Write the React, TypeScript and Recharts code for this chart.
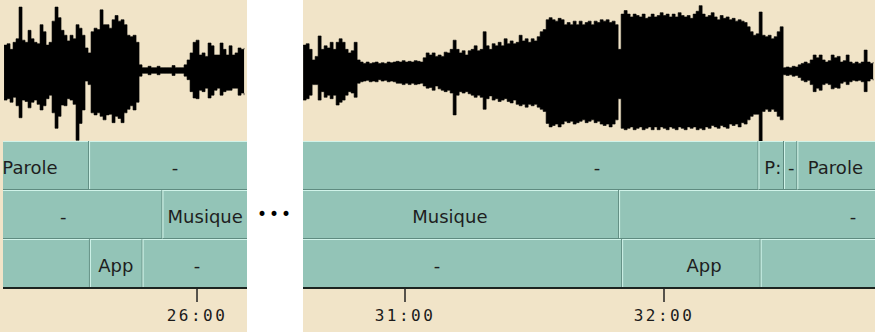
import { ComposedChart, Area, XAxis, YAxis, ReferenceArea, ReferenceDot } from 'recharts';

// time windows of the two views (seconds)
const leftDomain = [1515.06, 1571.58];
const rightDomain = [1836.37, 1968.88];
const leftTicks = [1560];
const rightTicks = [1860, 1920];

// waveform envelope, percent of full scale, one sample every WAVE_STEP seconds
const WAVE_STEP = 0.695;
const LEFT_WAVE_START = 1515.3;
const RIGHT_WAVE_START = 1836.4;

const leftUpper = [
  36, 38, 30, 40, 45, 90, 43, 40, 57, 45, 40, 38, 65, 55, 36, 40, 70, 90, 75, 57,
  50, 42, 50, 45, 65, 60, 50, 32, 25, 55, 60, 58, 86, 65, 65, 60, 72, 78, 70, 72,
  65, 50, 48, 50, 40, 8, 4, 4, 6, 4, 4, 6, 4, 4, 4, 4, 7, 4, 4, 4,
  8, 15, 25, 40, 43, 22, 25, 20, 39, 35, 22, 22, 39, 30, 22, 35, 22, 25, 32, 30, 32,
];
const leftLower = [
  42, 40, 45, 38, 50, 67, 42, 44, 53, 45, 42, 48, 56, 50, 40, 35, 60, 82, 65, 49,
  50, 40, 42, 48, 99, 75, 56, 15, 20, 60, 63, 60, 65, 70, 63, 62, 74, 65, 68, 74,
  60, 55, 50, 56, 45, 8, 4, 4, 6, 4, 4, 6, 4, 4, 4, 4, 7, 4, 4, 4,
  8, 13, 30, 39, 40, 28, 30, 25, 39, 35, 28, 25, 35, 30, 28, 28, 25, 25, 35, 32, 35,
];

const rightUpper = [
  36, 38, 30, 15, 20, 49, 30, 35, 32, 40, 30, 40, 45, 40, 30, 25, 28, 40, 15, 12,
  10, 12, 10, 11, 12, 10, 11, 10, 12, 11, 12, 13, 12, 14, 12, 13, 12, 14, 13, 12,
  18, 25, 22, 25, 20, 22, 20, 26, 25, 30, 43, 30, 25, 28, 22, 28, 30, 35, 28, 30,
  55, 35, 30, 38, 35, 40, 35, 45, 38, 42, 38, 40, 50, 42, 45, 40, 45, 42, 48, 55,
  58, 72, 75, 72, 70, 74, 72, 65, 68, 65, 70, 65, 70, 65, 68, 70, 65, 70, 68, 72,
  70, 72, 68, 70, 65, 30, 80, 85, 80, 76, 80, 78, 76, 80, 74, 76, 80, 76, 78, 82,
  78, 80, 76, 80, 76, 82, 78, 76, 78, 74, 80, 84, 92, 80, 76, 78, 82, 76, 72, 78,
  74, 76, 72, 74, 70, 72, 70, 68, 62, 55, 50, 52, 83, 50, 48, 50, 45, 48, 55, 62,
  4, 5, 4, 6, 5, 8, 10, 12, 10, 15, 22, 18, 22, 15, 12, 14, 22, 18, 20, 12,
  14, 22, 12, 10, 12, 10, 12, 29, 12, 10, 12,
];
const rightLower = [
  42, 40, 35, 20, 20, 42, 30, 38, 35, 40, 35, 49, 45, 42, 35, 30, 32, 38, 18, 16,
  15, 14, 16, 15, 16, 13, 15, 14, 16, 15, 16, 18, 18, 20, 18, 20, 18, 20, 19, 18,
  22, 25, 24, 28, 22, 26, 28, 30, 28, 32, 63, 35, 30, 32, 30, 33, 35, 38, 35, 38,
  55, 40, 36, 42, 40, 44, 42, 40, 44, 46, 42, 48, 50, 48, 52, 48, 50, 48, 52, 55,
  58, 75, 80, 78, 76, 80, 76, 72, 74, 72, 76, 74, 72, 70, 74, 72, 70, 74, 72, 76,
  78, 76, 80, 76, 70, 40, 82, 84, 82, 80, 84, 82, 80, 84, 82, 80, 84, 80, 84, 80,
  82, 84, 80, 82, 84, 80, 82, 84, 80, 82, 80, 84, 82, 84, 80, 82, 78, 80, 82, 78,
  80, 82, 76, 78, 76, 80, 74, 76, 70, 65, 62, 62, 100, 58, 55, 58, 55, 58, 65, 70,
  6, 7, 6, 8, 7, 10, 14, 16, 14, 20, 30, 25, 28, 20, 18, 20, 26, 24, 25, 18,
  16, 20, 16, 14, 15, 14, 16, 30, 15, 12, 14,
];

// annotation tracks: row 0 = speech, 1 = music, 2 = applause
const leftSegments = [
  { row: 0, start: 1500, end: 1535.0, label: 'Parole', at: 1521.3 },
  { row: 0, start: 1535.0, end: 1590, label: '-', at: 1554.9 },
  { row: 1, start: 1500, end: 1552.0, label: '-', at: 1529.0 },
  { row: 1, start: 1552.0, end: 1590, label: 'Musique', at: 1561.9 },
  { row: 2, start: 1500, end: 1535.2, label: '', at: 1520 },
  { row: 2, start: 1535.2, end: 1547.4, label: 'App', at: 1541.2 },
  { row: 2, start: 1547.4, end: 1590, label: '-', at: 1560.0 },
];
const rightSegments = [
  { row: 0, start: 1820, end: 1941.9, label: '-', at: 1904.5 },
  { row: 0, start: 1941.9, end: 1947.8, label: 'P:', at: 1945.2 },
  { row: 0, start: 1947.8, end: 1950.9, label: '-', at: 1949.5 },
  { row: 0, start: 1950.9, end: 1990, label: 'Parole', at: 1959.7 },
  { row: 1, start: 1820, end: 1909.6, label: 'Musique', at: 1870.4 },
  { row: 1, start: 1909.6, end: 1990, label: '-', at: 1963.8 },
  { row: 2, start: 1820, end: 1910.3, label: '-', at: 1867.4 },
  { row: 2, start: 1910.3, end: 1942.4, label: 'App', at: 1929.3 },
  { row: 2, start: 1942.4, end: 1990, label: '', at: 1960 },
];

const BEIGE = '#f1e4c8';
const TEAL = '#93c4b7';
const LIGHT = '#d0f3e9';
const SHADE = '#5f8b80';

const toWave = (start, upper, lower) =>
  upper.map((u, i) => ({ t: start + i * WAVE_STEP, range: [-lower[i] / 100, u / 100] }));

const fmt = (t) => {
  const m = Math.floor(t / 60);
  const s = Math.round(t % 60);
  return `${m}:${String(s).padStart(2, '0')}`;
};

const SegmentShape = (p) => {
  const { x, y, width, height } = p;
  return (
    <g>
      <rect x={x} y={y} width={width} height={height} fill={TEAL} />
      <line x1={x} y1={y + 0.5} x2={x + width} y2={y + 0.5} stroke={LIGHT} />
      <line x1={x + 0.5} y1={y} x2={x + 0.5} y2={y + height} stroke={LIGHT} />
      <line x1={x + width - 0.5} y1={y} x2={x + width - 0.5} y2={y + height} stroke={SHADE} />
      <line x1={x} y1={y + height - 0.5} x2={x + width} y2={y + height - 0.5} stroke={SHADE} />
    </g>
  );
};

const Panel = ({ left, width, domain, wave, segments, ticks }) => (
  <div style={{ position: 'absolute', left, top: 0, width, height: 332 }}>
    <div style={{ position: 'absolute', left: 0, top: 0 }}>
      <ComposedChart width={width} height={141} data={wave} margin={{ top: 0, right: 0, bottom: 0, left: 0 }}>
        <XAxis type="number" dataKey="t" domain={domain} allowDataOverflow hide />
        <YAxis type="number" domain={[-1, 1]} allowDataOverflow hide />
        <Area
          type="stepAfter"
          dataKey="range"
          fill="#000"
          fillOpacity={1}
          stroke="#000"
          strokeWidth={0.6}
          isAnimationActive={false}
        />
      </ComposedChart>
    </div>
    <div style={{ position: 'absolute', left: 0, top: 141 }}>
      <ComposedChart width={width} height={191} margin={{ top: 0, right: 0, bottom: 0, left: 0 }}>
        <XAxis
          type="number"
          dataKey="t"
          domain={domain}
          allowDataOverflow
          ticks={ticks}
          tickFormatter={fmt}
          height={44}
          axisLine={{ stroke: '#1c2420', strokeWidth: 2 }}
          tickLine={{ stroke: '#222', strokeWidth: 1.5 }}
          tickSize={14}
          tickMargin={8}
          tick={{ fill: '#1a1a1a', fontSize: 16, fontFamily: 'DejaVu Sans Mono', letterSpacing: 2.5 }}
        />
        <YAxis type="number" domain={[0, 3]} reversed allowDataOverflow hide />
        {segments.map((s, i) => (
          <ReferenceArea
            key={'a' + i}
            x1={s.start}
            x2={s.end}
            y1={s.row}
            y2={s.row + 1}
            ifOverflow="hidden"
            shape={SegmentShape}
          />
        ))}
        {segments
          .filter((s) => s.label)
          .map((s, i) => (
            <ReferenceDot
              key={'l' + i}
              x={s.at}
              y={s.row + 0.5}
              r={0}
              ifOverflow="hidden"
              shape={(p) => (
                <text
                  x={p.cx}
                  y={p.cy + 2}
                  textAnchor="middle"
                  dominantBaseline="central"
                  fontSize={18}
                  fontFamily="DejaVu Sans"
                  fill="#1e1e1e"
                >
                  {s.label}
                </text>
              )}
            />
          ))}
      </ComposedChart>
    </div>
  </div>
);

export default function App() {
  const leftWave = toWave(LEFT_WAVE_START, leftUpper, leftLower);
  const rightWave = toWave(RIGHT_WAVE_START, rightUpper, rightLower);
  return (
    <div style={{ position: 'absolute', left: 0, top: 0, width: 875, height: 332, background: '#fff', overflow: 'hidden' }}>
      <div style={{ position: 'absolute', left: 0, top: 0, width: 247, height: 332, background: BEIGE }} />
      <div style={{ position: 'absolute', left: 303, top: 0, width: 572, height: 332, background: BEIGE }} />
      <Panel left={3} width={244} domain={leftDomain} wave={leftWave} segments={leftSegments} ticks={leftTicks} />
      <Panel left={303} width={572} domain={rightDomain} wave={rightWave} segments={rightSegments} ticks={rightTicks} />
      <div
        style={{
          position: 'absolute',
          left: 255,
          top: 204,
          width: 40,
          textAlign: 'center',
          fontFamily: 'DejaVu Sans',
          fontSize: 17,
          letterSpacing: 2,
          color: '#000',
        }}
      >
        •••
      </div>
    </div>
  );
}
